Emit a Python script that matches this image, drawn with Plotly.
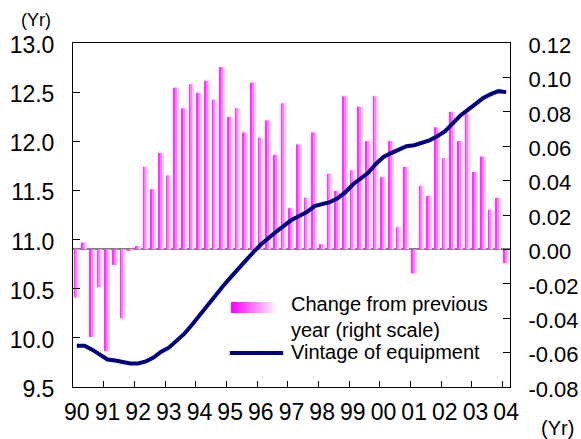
import plotly.graph_objects as go

# Quarterly series, 1990Q1 - 2004Q1
YEARS = ["90", "91", "92", "93", "94", "95", "96", "97", "98", "99",
         "00", "01", "02", "03", "04"]
QUARTERS = [f"{y}Q{q}" for y in YEARS for q in (1, 2, 3, 4)][:57]

# Change from previous year (years, right scale)
CHANGE = [-0.028, 0.004, -0.051, -0.022, -0.059, -0.009, -0.040, -0.001,
          0.002, 0.048, 0.035, 0.056, 0.043, 0.094, 0.082, 0.096,
          0.091, 0.098, 0.087, 0.106, 0.077, 0.082, 0.068, 0.097,
          0.065, 0.075, 0.055, 0.085, 0.024, 0.061, 0.030, 0.068,
          0.003, 0.044, 0.034, 0.089, 0.046, 0.083, 0.063, 0.089,
          0.042, 0.063, 0.013, 0.048, -0.014, 0.037, 0.031, 0.071,
          0.053, 0.080, 0.063, 0.079, 0.045, 0.054, 0.023, 0.030,
          -0.008]

# Vintage of equipment (years, left scale)
VINTAGE = [9.92, 9.92, 9.88, 9.83, 9.78, 9.77, 9.75, 9.74,
           9.74, 9.76, 9.80, 9.86, 9.90, 9.97, 10.04, 10.13,
           10.23, 10.33, 10.43, 10.52, 10.61, 10.70, 10.79, 10.87,
           10.95, 11.02, 11.08, 11.14, 11.20, 11.24, 11.28, 11.34,
           11.36, 11.38, 11.42, 11.48, 11.56, 11.62, 11.68, 11.77,
           11.84, 11.88, 11.92, 11.95, 11.96, 11.98, 12.01, 12.05,
           12.10, 12.18, 12.26, 12.32, 12.38, 12.44, 12.48, 12.51,
           12.50]

LEFT_TICKS = [9.5, 10.0, 10.5, 11.0, 11.5, 12.0, 12.5, 13.0]
LEFT_LABELS = ["9.5", "10.0", "10.5", "11.0", "11.5", "12.0", "12.5", "13.0"]
RIGHT_TICKS = [-0.08, -0.06, -0.04, -0.02, 0.00, 0.02, 0.04, 0.06, 0.08, 0.10, 0.12]
RIGHT_LABELS = ["-0.08", "-0.06", "-0.04", "-0.02", "0.00", "0.02", "0.04",
                "0.06", "0.08", "0.10", "0.12"]

FONT = "Liberation Sans, Arial, sans-serif"
NAVY = "#000080"

x = list(range(len(QUARTERS)))

fig = go.Figure()

# Each bar is drawn as three vertical stripes to give a shaded look
stripes = [("#FF33FF", -0.33), ("#FF80FF", -0.11), ("#FFC8FF", 0.11)]
for color, off in stripes:
    fig.add_trace(go.Bar(
        x=x, y=CHANGE, yaxis="y", width=0.22, offset=off,
        marker=dict(color=color, line=dict(width=0)),
        showlegend=False, hoverinfo="skip",
    ))

fig.add_trace(go.Scatter(
    x=x, y=VINTAGE, yaxis="y2", mode="lines",
    line=dict(color=NAVY, width=4),
    showlegend=False,
))

year_pos = [i for i in x if i % 4 == 0]
boundaries = [i - 0.5 for i in x if i % 4 == 0 and i > 0]

fig.update_layout(
    width=581, height=439,
    margin=dict(l=73, r=71, t=43, b=52),
    paper_bgcolor="white", plot_bgcolor="white",
    barmode="overlay",
    font=dict(family=FONT, size=23, color="black"),
    showlegend=False,
    xaxis=dict(
        range=[-0.5, len(x) - 0.5], automargin=False,
        tickmode="array", tickvals=year_pos, ticktext=YEARS[:len(year_pos)],
        ticks="", showgrid=False, zeroline=False,
        showline=True, linecolor="black", linewidth=1, mirror=True,
        minor=dict(tickmode="array", tickvals=boundaries, ticks="inside",
                   ticklen=6, tickcolor="black", tickwidth=1, showgrid=False),
        tickfont=dict(size=23), ticklabelstandoff=4,
    ),
    yaxis=dict(
        side="right", range=[-0.08, 0.12], automargin=False,
        tickmode="array", tickvals=RIGHT_TICKS, ticktext=RIGHT_LABELS,
        ticks="inside", ticklen=7, tickcolor="black",
        showgrid=False, showline=True, linecolor="black", linewidth=1,
        zeroline=True, zerolinecolor="#808080", zerolinewidth=2,
        tickfont=dict(size=22), ticklabelstandoff=13, ticklabelshift=2,
    ),
    yaxis2=dict(
        side="left", overlaying="y", range=[9.5, 13.0], automargin=False,
        tickmode="array", tickvals=LEFT_TICKS, ticktext=LEFT_LABELS,
        ticks="inside", ticklen=7, tickcolor="black",
        showgrid=False, showline=True, linecolor="black", linewidth=1,
        zeroline=False,
        tickfont=dict(size=23), ticklabelstandoff=13, ticklabelshift=2,
    ),
)

# Unit labels
fig.add_annotation(text="(Yr)", xref="paper", yref="paper", x=-0.084, y=1.066,
                   showarrow=False, font=dict(size=18), xanchor="center", yanchor="middle")
fig.add_annotation(text="(Yr)", xref="paper", yref="paper", x=1.109, y=-0.12,
                   showarrow=False, font=dict(size=20), xanchor="center", yanchor="middle")

# Legend: shaded swatch for the bars and a line sample
n_steps = 24
sx0, sx1 = 0.3617, 0.4700
for k in range(n_steps):
    t = k / (n_steps - 1)
    g = int(round(0 + 255 * t))
    fig.add_shape(type="rect", xref="paper", yref="paper",
                  x0=sx0 + (sx1 - sx0) * k / n_steps,
                  x1=sx0 + (sx1 - sx0) * (k + 1) / n_steps + 0.001,
                  y0=0.2151, y1=0.2471,
                  fillcolor=f"rgb(255,{g},255)", line=dict(width=0), layer="above")
fig.add_shape(type="line", xref="paper", yref="paper",
              x0=0.3588, x1=0.4809, y0=0.0988, y1=0.0988,
              line=dict(color=NAVY, width=4), layer="above")
fig.add_annotation(text="Change from previous<br>year (right scale)",
                   xref="paper", yref="paper", x=0.494, y=0.203,
                   showarrow=False, align="left", xanchor="left", yanchor="middle",
                   font=dict(size=20))
fig.add_annotation(text="Vintage of equipment",
                   xref="paper", yref="paper", x=0.494, y=0.103,
                   showarrow=False, align="left", xanchor="left", yanchor="middle",
                   font=dict(size=20))

fig.write_html("out.html")
